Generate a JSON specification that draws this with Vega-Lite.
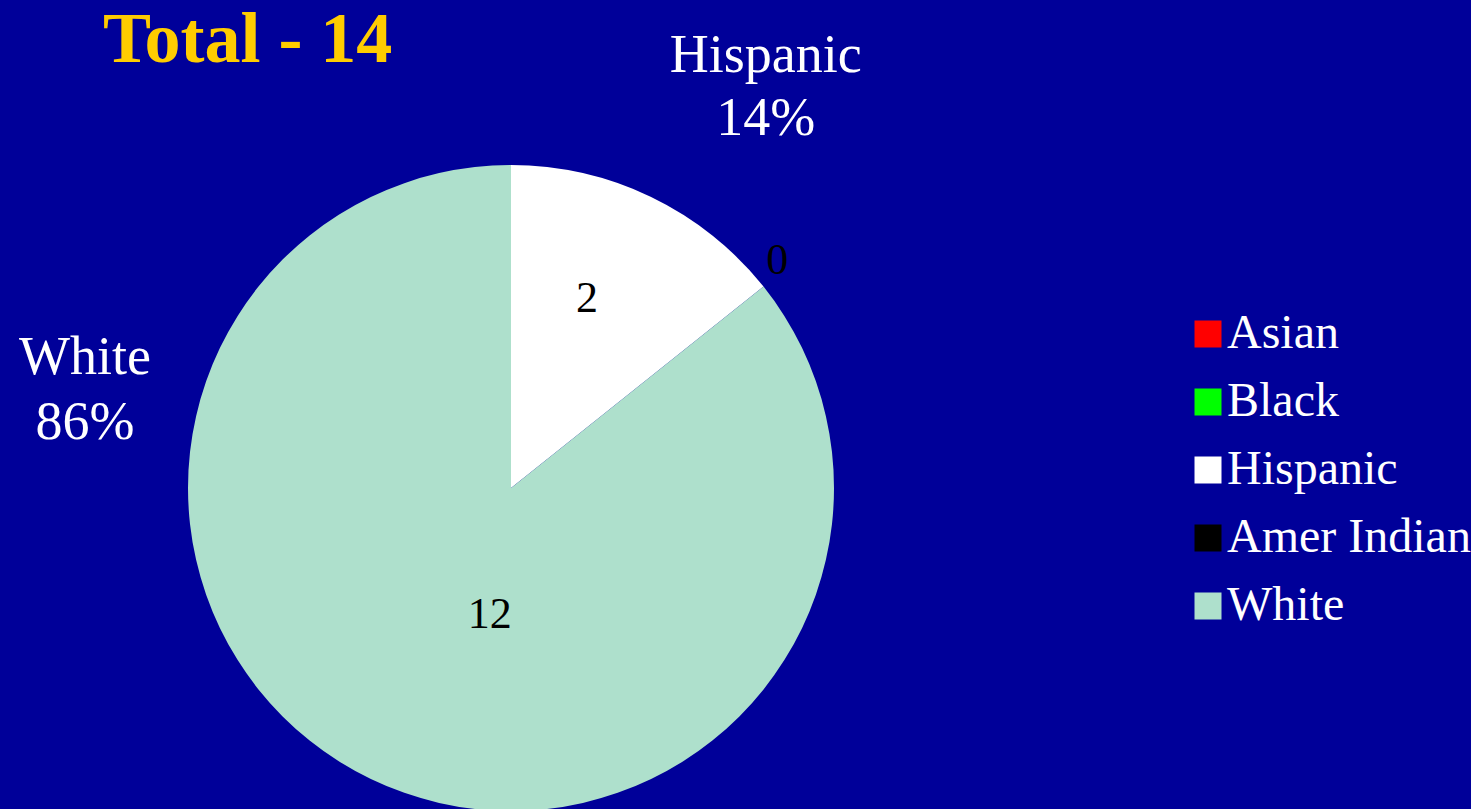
{
  "$schema": "https://vega.github.io/schema/vega-lite/v6.json",
  "width": 1022,
  "height": 976,
  "autosize": {"type": "pad"},
  "padding": 0,
  "background": "#000099",
  "view": {"stroke": null},
  "title": {
    "text": "Total - 14",
    "anchor": "start",
    "frame": "group",
    "font": "Liberation Serif",
    "fontSize": 72,
    "fontWeight": "bold",
    "color": "#FFCC00",
    "baseline": "alphabetic",
    "offset": 0,
    "dx": 103,
    "dy": 134
  },
  "data": {
    "values": [
      {"race": "Asian", "count": 0},
      {"race": "Black", "count": 0},
      {"race": "Hispanic", "count": 2},
      {"race": "Amer Indian", "count": 0},
      {"race": "White", "count": 12}
    ]
  },
  "transform": [
    {"joinaggregate": [{"op": "sum", "field": "count", "as": "total"}]},
    {"calculate": "indexof(['Asian','Black','Hispanic','Amer Indian','White'], datum.race)", "as": "idx"},
    {"stack": "count", "groupby": [], "sort": [{"field": "idx", "order": "ascending"}], "as": ["t0", "t1"]},
    {"calculate": "(datum.t0 + datum.t1) / 2", "as": "mid"},
    {"calculate": "[datum.race, format(datum.count / datum.total, '.0%')]", "as": "outer"}
  ],
  "layer": [
    {
      "mark": {"type": "arc", "outerRadius": 323, "stroke": null},
      "encoding": {
        "theta": {"field": "t0", "type": "quantitative", "scale": {"domain": [0, 14]}},
        "theta2": {"field": "t1"},
        "color": {
          "field": "race",
          "type": "nominal",
          "scale": {
            "domain": ["Asian", "Black", "Hispanic", "Amer Indian", "White"],
            "range": ["#FF0000", "#00FF00", "#FFFFFF", "#000000", "#AEE0CC"]
          },
          "legend": {
            "title": null,
            "orient": "none",
            "legendX": 1184,
            "legendY": 310,
            "symbolType": "square",
            "symbolSize": 729,
            "symbolStrokeWidth": 0,
            "symbolOpacity": 1,
            "labelFont": "Liberation Serif",
            "labelFontSize": 48,
            "labelColor": "#FFFFFF",
            "labelOffset": -5,
            "labelLimit": 400,
            "rowPadding": 20
          }
        }
      }
    },
    {
      "transform": [{"filter": "datum.race == 'Hispanic'"}],
      "mark": {"type": "text", "radius": 210, "dx": -15, "font": "Liberation Serif", "fontSize": 44, "color": "#000000", "align": "center", "baseline": "middle"},
      "encoding": {"theta": {"field": "mid", "type": "quantitative"}, "text": {"field": "count"}}
    },
    {
      "transform": [{"filter": "datum.race == 'White'"}],
      "mark": {"type": "text", "radius": 141, "dx": 40, "font": "Liberation Serif", "fontSize": 44, "color": "#000000", "align": "center", "baseline": "middle"},
      "encoding": {"theta": {"field": "mid", "type": "quantitative"}, "text": {"field": "count"}}
    },
    {
      "transform": [{"filter": "datum.race == 'Amer Indian'"}],
      "mark": {"type": "text", "radius": 338, "dx": 2, "dy": -16, "font": "Liberation Serif", "fontSize": 44, "color": "#000000", "align": "center", "baseline": "middle"},
      "encoding": {"theta": {"field": "mid", "type": "quantitative"}, "text": {"field": "count"}}
    },
    {
      "transform": [{"filter": "datum.race == 'Hispanic'"}],
      "mark": {"type": "text", "radius": 465, "dx": 53, "dy": 3, "font": "Liberation Serif", "fontSize": 54, "lineHeight": 63, "color": "#FFFFFF", "align": "center", "baseline": "alphabetic"},
      "encoding": {"theta": {"field": "mid", "type": "quantitative"}, "text": {"field": "outer"}}
    },
    {
      "transform": [{"filter": "datum.race == 'White'"}],
      "mark": {"type": "text", "radius": 0, "dx": -426, "dy": -114, "font": "Liberation Serif", "fontSize": 54, "lineHeight": 65, "color": "#FFFFFF", "align": "center", "baseline": "alphabetic"},
      "encoding": {"theta": {"field": "mid", "type": "quantitative"}, "text": {"field": "outer"}}
    }
  ]
}
